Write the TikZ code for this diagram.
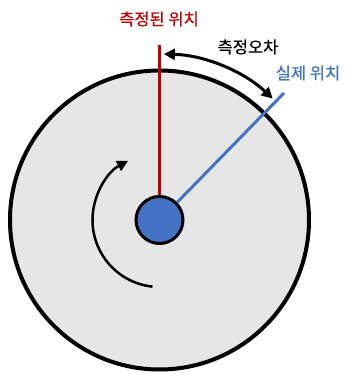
\documentclass[tikz,border=0pt]{standalone}
\usepackage{fontspec}
\newfontfamily\kr[FakeBold=0.6]{Noto Sans CJK KR}
\usetikzlibrary{arrows.meta,calc}
\definecolor{diskgray}{RGB}{231,230,230}
\definecolor{measred}{RGB}{192,0,0}
\definecolor{truthblue}{RGB}{68,114,196}
\tikzset{
  lbl/.style={font=\kr\fontsize{16.5}{18}\selectfont, inner sep=0pt},
  tip/.style={-{Triangle[length=11pt,width=11pt]}},
}
\begin{document}
\begin{tikzpicture}[x=1pt,y=1pt]
\useasboundingbox (0,0) rectangle (345,374);
\coordinate (c) at (159.5,154);
% disk
\node (disk) [circle, draw=black, line width=4pt, fill=diskgray, minimum size=299pt, inner sep=0pt] at (c) {};
% hub
\node (hub) [circle, draw=black, line width=3pt, fill=truthblue, minimum size=47pt, inner sep=0pt] at (c) {};
\coordinate (redtop) at (159.5,329);
\coordinate (bluetop) at (284,281);
\draw[measred, line width=3pt] (hub.north) -- (redtop);
\draw[truthblue, line width=3pt] (hub.45) -- (bluetop);
% error arc
\draw[line width=3pt, {Triangle[length=11pt,width=11pt]}-{Triangle[length=11pt,width=11pt]}]
  ($(c)+(88.5:166)$) arc[start angle=88.5, end angle=47, radius=166];
% rotation arrow
\draw[line width=2.5pt, tip] ($(c)+(264:67)$) arc[start angle=264, end angle=118, radius=67];
% labels
\node (lmeas) [lbl, text=measred] at (159,355) {측정된 위치};
\node (lerr) [lbl, text=black] at (248,327) {측정오차};
\node (ltrue) [lbl, text=truthblue] at (308,301) {실제 위치};
\end{tikzpicture}
\end{document}
